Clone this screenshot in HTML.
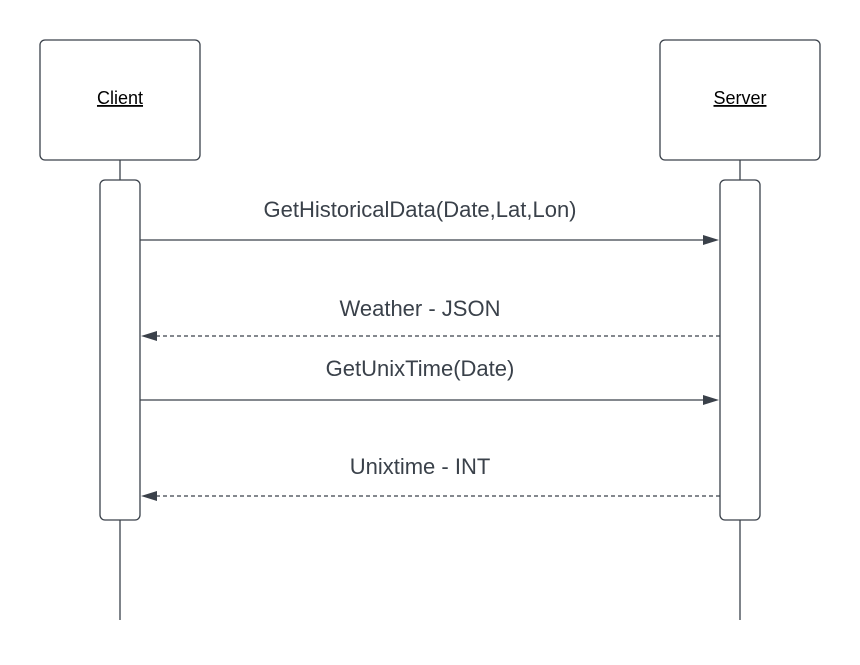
<!DOCTYPE html>
<html><head><style>body{margin:0;background:#fff}</style></head><body>
<svg width="860" height="660" xmlns="http://www.w3.org/2000/svg" font-family="Liberation Sans, sans-serif">
<rect width="860" height="660" fill="#fff"/>
<g stroke="#3a414a" stroke-width="1.3" fill="none">
<line x1="120" y1="160" x2="120" y2="180"/>
<line x1="120" y1="520" x2="120" y2="620"/>
<line x1="740" y1="160" x2="740" y2="180"/>
<line x1="740" y1="520" x2="740" y2="620"/>
<rect x="40" y="40" width="160" height="120" rx="5" fill="#fff"/>
<rect x="660" y="40" width="160" height="120" rx="5" fill="#fff"/>
<rect x="100" y="180" width="40" height="340" rx="5" fill="#fff"/>
<rect x="720" y="180" width="40" height="340" rx="5" fill="#fff"/>
<line x1="140" y1="240" x2="705" y2="240"/>
<line x1="140" y1="400" x2="705" y2="400"/>
<line x1="720" y1="336" x2="155" y2="336" stroke-dasharray="4,3"/>
<line x1="720" y1="496" x2="155" y2="496" stroke-dasharray="4,3"/>
</g>
<g fill="#3a414a">
<polygon points="703,235 719,240 703,245"/>
<polygon points="703,395 719,400 703,405"/>
<polygon points="157,331 141,336 157,341"/>
<polygon points="157,491 141,496 157,501"/>
</g>
<g fill="#000" font-size="18" text-anchor="middle" text-decoration="underline">
<text x="120" y="104">Client</text>
<text x="740" y="104">Server</text>
</g>
<g fill="#3a414a" font-size="22" text-anchor="middle">
<text x="420" y="217">GetHistoricalData(Date,Lat,Lon)</text>
<text x="420" y="316">Weather - JSON</text>
<text x="420" y="376">GetUnixTime(Date)</text>
<text x="420" y="474">Unixtime - INT</text>
</g>
</svg>
</body></html>
